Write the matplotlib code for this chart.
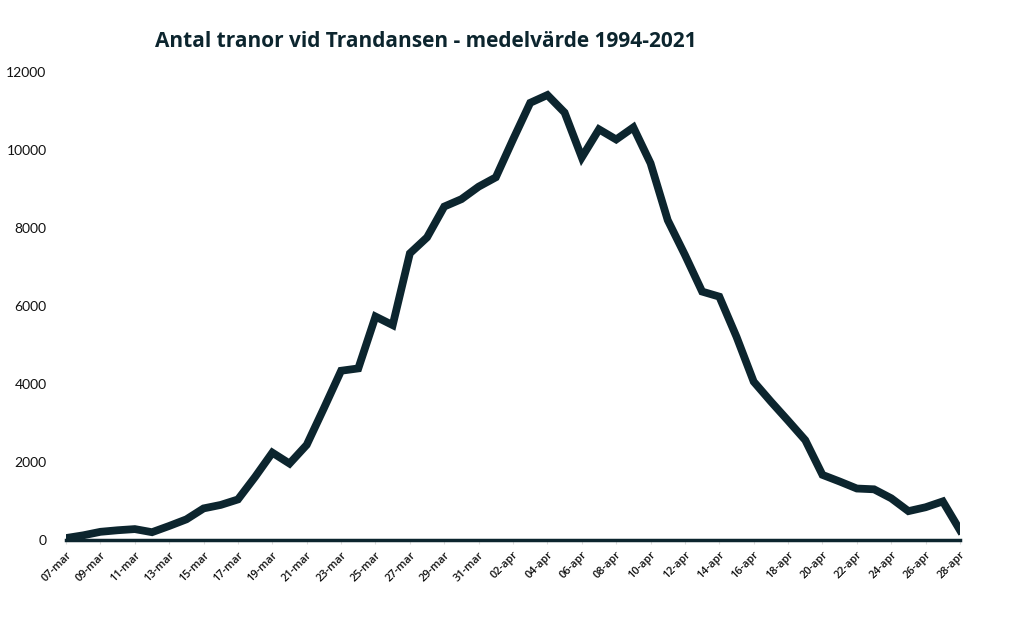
import matplotlib.pyplot as plt

# daily average number of cranes, 07-mar .. 28-apr
dates = ['07-mar', '08-mar', '09-mar', '10-mar', '11-mar', '12-mar', '13-mar', '14-mar',
         '15-mar', '16-mar', '17-mar', '18-mar', '19-mar', '20-mar', '21-mar', '22-mar',
         '23-mar', '24-mar', '25-mar', '26-mar', '27-mar', '28-mar', '29-mar', '30-mar',
         '31-mar', '01-apr', '02-apr', '03-apr', '04-apr', '05-apr', '06-apr', '07-apr',
         '08-apr', '09-apr', '10-apr', '11-apr', '12-apr', '13-apr', '14-apr', '15-apr',
         '16-apr', '17-apr', '18-apr', '19-apr', '20-apr', '21-apr', '22-apr', '23-apr',
         '24-apr', '25-apr', '26-apr', '27-apr', '28-apr']
cranes = [50, 120, 210, 250, 280, 200, 360, 530,
          810, 900, 1040, 1620, 2240, 1960, 2440, 3380,
          4340, 4400, 5730, 5510, 7350, 7760, 8550, 8740,
          9060, 9300, 10270, 11210, 11410, 10960, 9810, 10530,
          10270, 10580, 9660, 8200, 7310, 6370, 6240, 5210,
          4060, 3550, 3060, 2560, 1670, 1500, 1320, 1300,
          1070, 740, 840, 990, 250]
yticks = [0, 2000, 4000, 6000, 8000, 10000, 12000]

dark = '#0c252e'

fig = plt.figure(figsize=(10.24, 6.35), dpi=100)
ax = fig.add_axes([0.0645, 0.1496, 0.873, 0.737])

x = range(len(dates))
ax.plot(x, cranes, color=dark, linewidth=5.6, solid_joinstyle='miter', zorder=3)

ax.set_xlim(0, len(dates) - 1)
ax.set_ylim(0, 12000)

for s in ['top', 'right', 'left']:
    ax.spines[s].set_visible(False)
ax.spines['bottom'].set_color(dark)
ax.spines['bottom'].set_linewidth(2.5)

ax.set_yticks(yticks)
ax.set_yticklabels([str(v) for v in yticks], fontsize=10, family='Lato', color='#111111')
ax.tick_params(axis='y', length=0, pad=14)

ax.set_xticks(list(x)[::2])
ax.set_xticklabels(dates[::2], rotation=45, ha='right', va='top', rotation_mode='anchor',
                   fontsize=7.8, family='Open Sans', fontweight='semibold', color='#111111')
ax.tick_params(axis='x', length=3, color='#dddddd', pad=4)

fig.text(0.416, 0.934, 'Antal tranor vid Trandansen - medelvärde 1994-2021',
         ha='center', va='center', fontsize=15, fontweight='bold', family='Open Sans',
         color=dark)

fig.savefig('out.png', dpi=100)
